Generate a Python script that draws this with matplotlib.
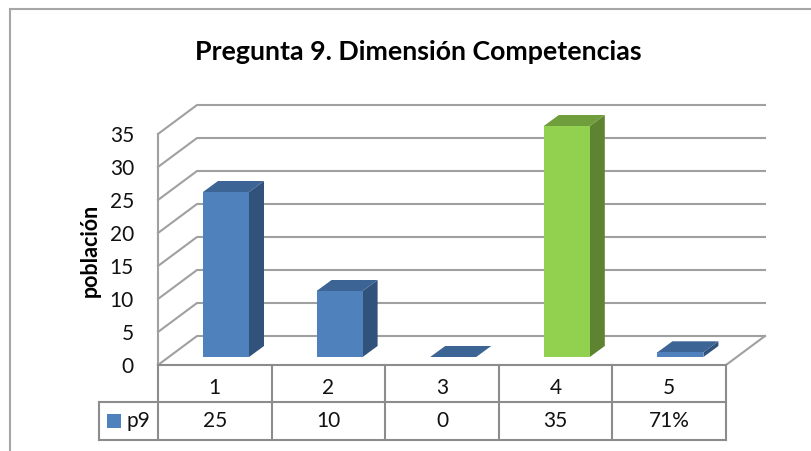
import matplotlib
matplotlib.use('Agg')
import matplotlib.pyplot as plt
from matplotlib.patches import Polygon, Rectangle

plt.rcParams['font.family'] = ['Lato', 'DejaVu Sans']

categorias = ['1', '2', '3', '4', '5']
valores = [25, 10, 0, 35, 0.71]
etiquetas = ['25', '10', '0', '35', '71%']
ticks_y = [0, 5, 10, 15, 20, 25, 30, 35]
serie = 'p9'
titulo = 'Pregunta 9. Dimensión Competencias'
eje_y = 'población'

W, H = 811, 452
GRIS = '#a0a0a0'
GRIS_TABLA = '#8c8c8c'
TEXTO = '#111111'

# pixel box of the front plane
left, right, top, bottom = 158, 726, 135, 366

fig = plt.figure(figsize=(W / 100, H / 100), dpi=100)
ax = fig.add_axes([left / W, 1 - bottom / H, (right - left) / W, (bottom - top) / H])
ax.set_xlim(0, 5)
ax.set_ylim(0, 35)
ax.axis('off')

# depth offsets in data units
px_x = 5 / (right - left)
px_y = 35 / (bottom - top)
fondo_x = 39 * px_x
fondo_y = 29 * px_y
bar_w = 46 * px_x
bar_dx = 15 * px_x
bar_dy = 11 * px_y
base_dx = 45 * px_x
base_dy = 8 * px_y

# walls and gridlines
for t in ticks_y:
    ax.plot([0, fondo_x, 5 + fondo_x], [t, t + fondo_y, t + fondo_y],
            color=GRIS, lw=1.5, clip_on=False, zorder=1)
ax.plot([0, 0], [0, 35], color=GRIS, lw=1.5, clip_on=False, zorder=1)
ax.plot([5, 5 + fondo_x], [0, fondo_y], color=GRIS, lw=1.5, clip_on=False, zorder=1)


def bar3d(i, v, front, tope, lado):
    x0 = i + base_dx
    y0 = base_dy
    y1 = y0 + v
    ax.add_patch(Polygon([(x0 + bar_w, y0), (x0 + bar_w + bar_dx, y0 + bar_dy),
                          (x0 + bar_w + bar_dx, y1 + bar_dy), (x0 + bar_w, y1)],
                         fc=lado, ec='none', clip_on=False, zorder=3))
    ax.add_patch(Polygon([(x0, y1), (x0 + bar_dx, y1 + bar_dy),
                          (x0 + bar_w + bar_dx, y1 + bar_dy), (x0 + bar_w, y1)],
                         fc=tope, ec='none', clip_on=False, zorder=3))
    ax.add_patch(Rectangle((x0, y0), bar_w, v, fc=front, ec='none', clip_on=False, zorder=4))


for i, v in enumerate(valores):
    if i == 3:
        bar3d(i, v, '#92d050', '#719e3c', '#5f8431')
    else:
        bar3d(i, v, '#4f81bd', '#3c6494', '#31527b')


def px(x, y):
    return x / W, 1 - y / H


def linea(x0, y0, x1, y1, lw=1.5, color=GRIS_TABLA):
    a, b = px(x0, y0), px(x1, y1)
    fig.add_artist(plt.Line2D([a[0], b[0]], [a[1], b[1]], color=color, lw=lw,
                              transform=fig.transFigure))


# table below the plot
fila1, fila2, fila3 = 366, 403, 441
tabla_izq = 98.5
linea(left, fila1, right, fila1)
linea(tabla_izq, fila2, right, fila2)
linea(tabla_izq, fila3, right, fila3)
linea(tabla_izq, fila2, tabla_izq, fila3)
for k in range(6):
    xk = left + k * (right - left) / 5
    linea(xk, fila1, xk, fila3)

for k, (c, e) in enumerate(zip(categorias, etiquetas)):
    xc = left + (k + 0.5) * (right - left) / 5
    fig.text(*px(xc, 388.5), c, ha='center', va='center', fontsize=15, color=TEXTO)
    fig.text(*px(xc, 421.5), e, ha='center', va='center', fontsize=15, color=TEXTO)

# legend key
fig.add_artist(Rectangle(px(107, 428.5), 14 / W, 14 / H, fc='#4f81bd', ec='none',
                         transform=fig.transFigure))
fig.text(*px(127, 421.5), serie, ha='left', va='center', fontsize=15, color=TEXTO)

# y tick labels
for t in ticks_y:
    ax.annotate(str(t), (0, t), xytext=(-24, -1), textcoords='offset pixels',
                ha='right', va='center', fontsize=15, color=TEXTO, annotation_clip=False)

fig.text(*px(90, 250), eje_y, rotation=90, ha='center', va='center', fontsize=15.5, fontweight='bold')
fig.text(*px(418, 52), titulo, ha='center', va='center', fontsize=19.3, fontweight='bold')

# outer frame
linea(10, 10, 811, 10, color='#a6a6a6')
linea(10, 10, 10, 452, color='#a6a6a6')

fig.savefig('out.png', dpi=100)
